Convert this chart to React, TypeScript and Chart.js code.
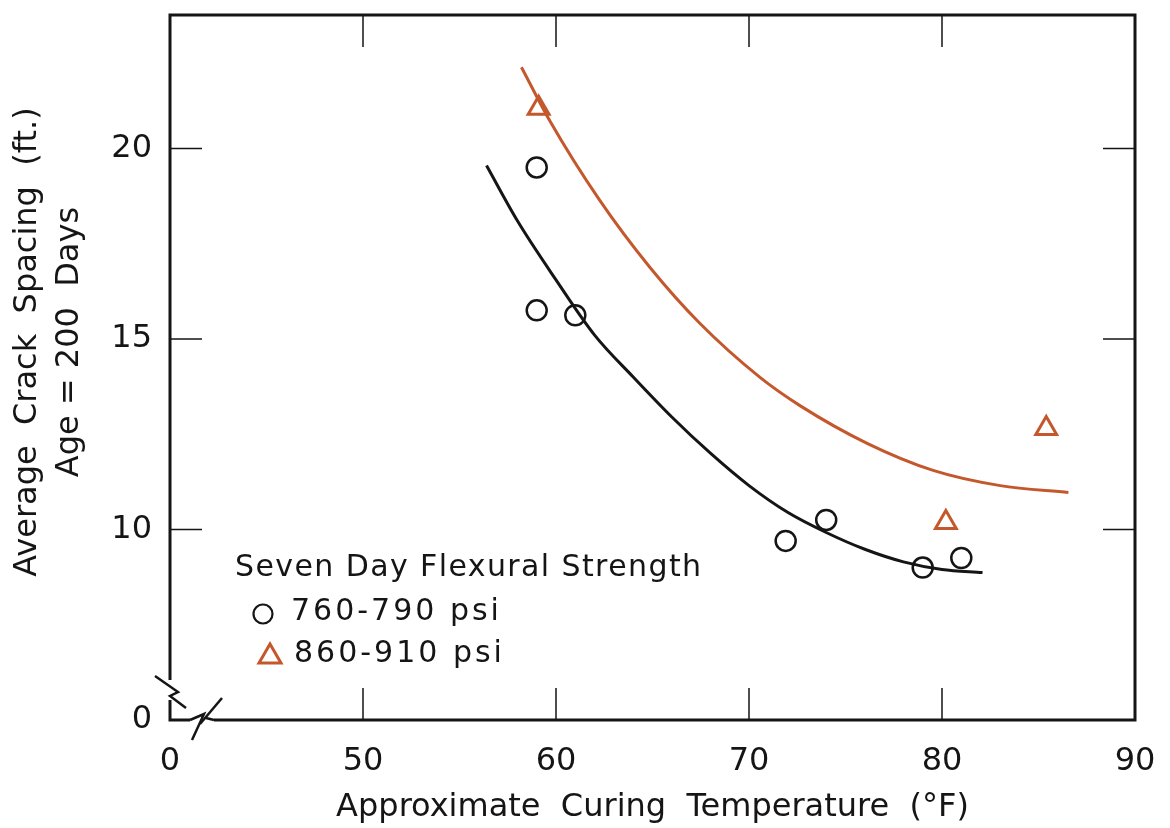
import { useEffect, useRef } from 'react';
import { Chart, registerables } from 'chart.js';

Chart.register(...registerables);

// ---- axis ticks (broken axes: the first tick of each axis is labelled "0") ----
const X_TICKS = [40, 50, 60, 70, 80, 90];
const X_TICK_LABELS = ['0', '50', '60', '70', '80', '90'];
const Y_TICKS = [5, 10, 15, 20];
const Y_TICK_LABELS = ['0', '10', '15', '20'];

// ---- measured points ----
const LOW_LABEL = '760-790 psi';
const lowTemp = [59.0, 59.0, 61.0, 71.9, 74.0, 79.0, 81.0];
const lowSpacing = [19.5, 15.75, 15.62, 9.7, 10.25, 9.0, 9.25];

const HIGH_LABEL = '860-910 psi';
const highTemp = [59.1, 80.2, 85.4];
const highSpacing = [21.05, 10.18, 12.65];

// ---- fitted curves ----
const lowCurveTemp = [56.4, 58, 60, 62, 64, 66, 68, 70, 72, 74, 76, 78, 80, 82.1];
const lowCurveSpacing = [19.55, 18.1, 16.55, 15.1, 14.0, 12.95, 12.0, 11.15, 10.45, 9.92, 9.48, 9.15, 8.95, 8.87];
const highCurveTemp = [58.21, 59.67, 62.26, 64.86, 67.45, 70.57, 72.64, 76.12, 79.54, 83.02, 86.55];
const highCurveSpacing = [22.13, 20.73, 18.64, 16.88, 15.41, 13.99, 13.25, 12.26, 11.55, 11.15, 10.97];

const LEGEND_TITLE = 'Seven Day Flexural Strength';
const X_TITLE = 'Approximate  Curing  Temperature  (°F)';
const Y_TITLE = ['     Average  Crack  Spacing  (ft.)', '     Age = 200  Days'];

const INK = '#151515';
const ORANGE = '#C4582C';
const FONT = '"DejaVu Sans", sans-serif';

const zip = (xs: number[], ys: number[]) => xs.map((x, i) => ({ x, y: ys[i] }));

const framePlugin = {
  id: 'frameDecor',
  beforeDraw(chart: any) {
    const { ctx } = chart;
    ctx.save();
    ctx.fillStyle = '#ffffff';
    ctx.fillRect(0, 0, chart.width, chart.height);
    ctx.restore();
  },
  afterDraw(chart: any) {
    const { ctx, chartArea: a, scales } = chart;
    const xs = scales.x;
    const ys = scales.y;
    ctx.save();
    ctx.strokeStyle = INK;
    ctx.lineCap = 'butt';
    ctx.lineJoin = 'miter';

    // frame (with breaks near the origin)
    ctx.lineWidth = 3;
    ctx.beginPath();
    ctx.moveTo(a.left, a.bottom - 40);
    ctx.lineTo(a.left, a.top);
    ctx.lineTo(a.right, a.top);
    ctx.lineTo(a.right, a.bottom);
    ctx.lineTo(a.left + 44, a.bottom);
    ctx.stroke();

    ctx.beginPath();
    ctx.moveTo(a.left, a.bottom - 20);
    ctx.lineTo(a.left, a.bottom);
    ctx.lineTo(a.left + 20, a.bottom);
    ctx.stroke();

    // y-axis break mark
    ctx.lineWidth = 2.5;
    ctx.beginPath();
    ctx.moveTo(a.left - 15, a.bottom - 44);
    ctx.lineTo(a.left + 8, a.bottom - 28);
    ctx.lineTo(a.left, a.bottom - 24);
    ctx.lineTo(a.left + 16, a.bottom - 12);
    ctx.stroke();

    // x-axis break mark
    ctx.beginPath();
    ctx.moveTo(a.left + 20, a.bottom);
    ctx.lineTo(a.left + 34, a.bottom - 6);
    ctx.lineTo(a.left + 22, a.bottom + 20);
    ctx.stroke();
    ctx.beginPath();
    ctx.moveTo(a.left + 30, a.bottom + 4);
    ctx.lineTo(a.left + 52, a.bottom - 22);
    ctx.stroke();
    ctx.beginPath();
    ctx.moveTo(a.left + 36, a.bottom - 2);
    ctx.lineTo(a.left + 44, a.bottom);
    ctx.stroke();

    // inner tick marks on all four sides
    const len = 32;
    ctx.lineWidth = 1.5;
    ctx.beginPath();
    X_TICKS.slice(1, -1).forEach((v) => {
      const px = xs.getPixelForValue(v);
      ctx.moveTo(px, a.bottom);
      ctx.lineTo(px, a.bottom - len);
      ctx.moveTo(px, a.top);
      ctx.lineTo(px, a.top + len);
    });
    Y_TICKS.slice(1).forEach((v) => {
      const py = ys.getPixelForValue(v);
      ctx.moveTo(a.left, py);
      ctx.lineTo(a.left + len, py);
      ctx.moveTo(a.right, py);
      ctx.lineTo(a.right - len, py);
    });
    ctx.stroke();

    // legend inside the plot
    ctx.fillStyle = INK;
    ctx.textAlign = 'left';
    ctx.textBaseline = 'middle';
    ctx.font = `30px ${FONT}`;
    (ctx as any).letterSpacing = '1.4px';
    ctx.fillText(LEGEND_TITLE, a.left + 65, a.bottom - 152);

    (ctx as any).letterSpacing = '3px';
    // circle item
    ctx.lineWidth = 2.2;
    ctx.strokeStyle = INK;
    ctx.beginPath();
    ctx.arc(a.left + 93, a.bottom - 106, 9.5, 0, Math.PI * 2);
    ctx.stroke();
    ctx.fillText(chart.data.datasets[0].label, a.left + 121, a.bottom - 108);
    // triangle item
    ctx.strokeStyle = ORANGE;
    ctx.lineWidth = 3;
    const tx = a.left + 100;
    const ty = a.bottom - 66;
    ctx.beginPath();
    ctx.moveTo(tx, ty - 10);
    ctx.lineTo(tx + 11, ty + 9);
    ctx.lineTo(tx - 11, ty + 9);
    ctx.closePath();
    ctx.stroke();
    ctx.fillStyle = INK;
    ctx.fillText(chart.data.datasets[1].label, a.left + 124, a.bottom - 66);
    (ctx as any).letterSpacing = '0px';
    ctx.restore();
  },
};

export default function App() {
  const ref = useRef<HTMLCanvasElement>(null);

  useEffect(() => {
    const canvas = ref.current;
    if (!canvas) return;
    Chart.defaults.font.family = FONT;
    Chart.defaults.color = INK;

    const chart = new Chart(canvas, {
      type: 'scatter',
      data: {
        datasets: [
          {
            label: LOW_LABEL,
            data: zip(lowTemp, lowSpacing),
            pointStyle: 'circle',
            pointRadius: 10,
            pointBorderWidth: 2.5,
            borderColor: INK,
            backgroundColor: 'rgba(0,0,0,0)',
            showLine: false,
          },
          {
            label: HIGH_LABEL,
            data: zip(highTemp, highSpacing),
            pointStyle: 'triangle',
            pointRadius: 12,
            pointBorderWidth: 3,
            borderColor: ORANGE,
            backgroundColor: 'rgba(0,0,0,0)',
            showLine: false,
          },
          {
            label: 'fit 760-790',
            data: zip(lowCurveTemp, lowCurveSpacing),
            showLine: true,
            pointRadius: 0,
            borderColor: INK,
            borderWidth: 3,
            cubicInterpolationMode: 'monotone',
          },
          {
            label: 'fit 860-910',
            data: zip(highCurveTemp, highCurveSpacing),
            showLine: true,
            pointRadius: 0,
            borderColor: ORANGE,
            borderWidth: 3,
            cubicInterpolationMode: 'monotone',
          },
        ],
      },
      options: {
        responsive: false,
        animation: false,
        layout: { padding: { top: 13, right: 35, left: 0, bottom: 0 } },
        plugins: {
          legend: { display: false },
          tooltip: { enabled: false },
        },
        scales: {
          x: {
            type: 'linear',
            min: 40,
            max: 90,
            afterBuildTicks: (s: any) => {
              s.ticks = X_TICKS.map((value) => ({ value }));
            },
            afterFit: (s: any) => {
              s.height = 108;
              s.paddingLeft = 0;
              s.paddingRight = 0;
              s.paddingTop = 0;
              s.paddingBottom = 0;
            },
            grid: { display: false, drawTicks: false },
            border: { display: false },
            ticks: {
              autoSkip: false,
              maxRotation: 0,
              padding: 22,
              color: INK,
              font: { size: 32 },
              callback: (_v: any, i: number) => X_TICK_LABELS[i],
            },
            title: {
              display: true,
              text: X_TITLE,
              color: INK,
              font: { size: 32 },
              padding: { top: 0, bottom: 1 },
            },
          },
          y: {
            type: 'linear',
            min: 5,
            max: 23.5,
            afterBuildTicks: (s: any) => {
              s.ticks = Y_TICKS.map((value) => ({ value }));
            },
            afterFit: (s: any) => {
              s.width = 170;
              s.paddingLeft = 0;
              s.paddingRight = 0;
              s.paddingTop = 0;
              s.paddingBottom = 0;
            },
            grid: { display: false, drawTicks: false },
            border: { display: false },
            ticks: {
              autoSkip: false,
              padding: 18,
              color: INK,
              font: { size: 32 },
              callback: (_v: any, i: number) => Y_TICK_LABELS[i],
            },
            title: {
              display: true,
              text: Y_TITLE,
              color: INK,
              font: { size: 32, lineHeight: 1.3 },
              padding: { top: 7, bottom: 0 },
            },
          },
        },
      },
      plugins: [framePlugin],
    });

    return () => chart.destroy();
  }, []);

  return (
    <div style={{ position: 'fixed', left: 0, top: 0, width: 1170, height: 828 }}>
      <canvas ref={ref} width={1170} height={828} />
    </div>
  );
}
